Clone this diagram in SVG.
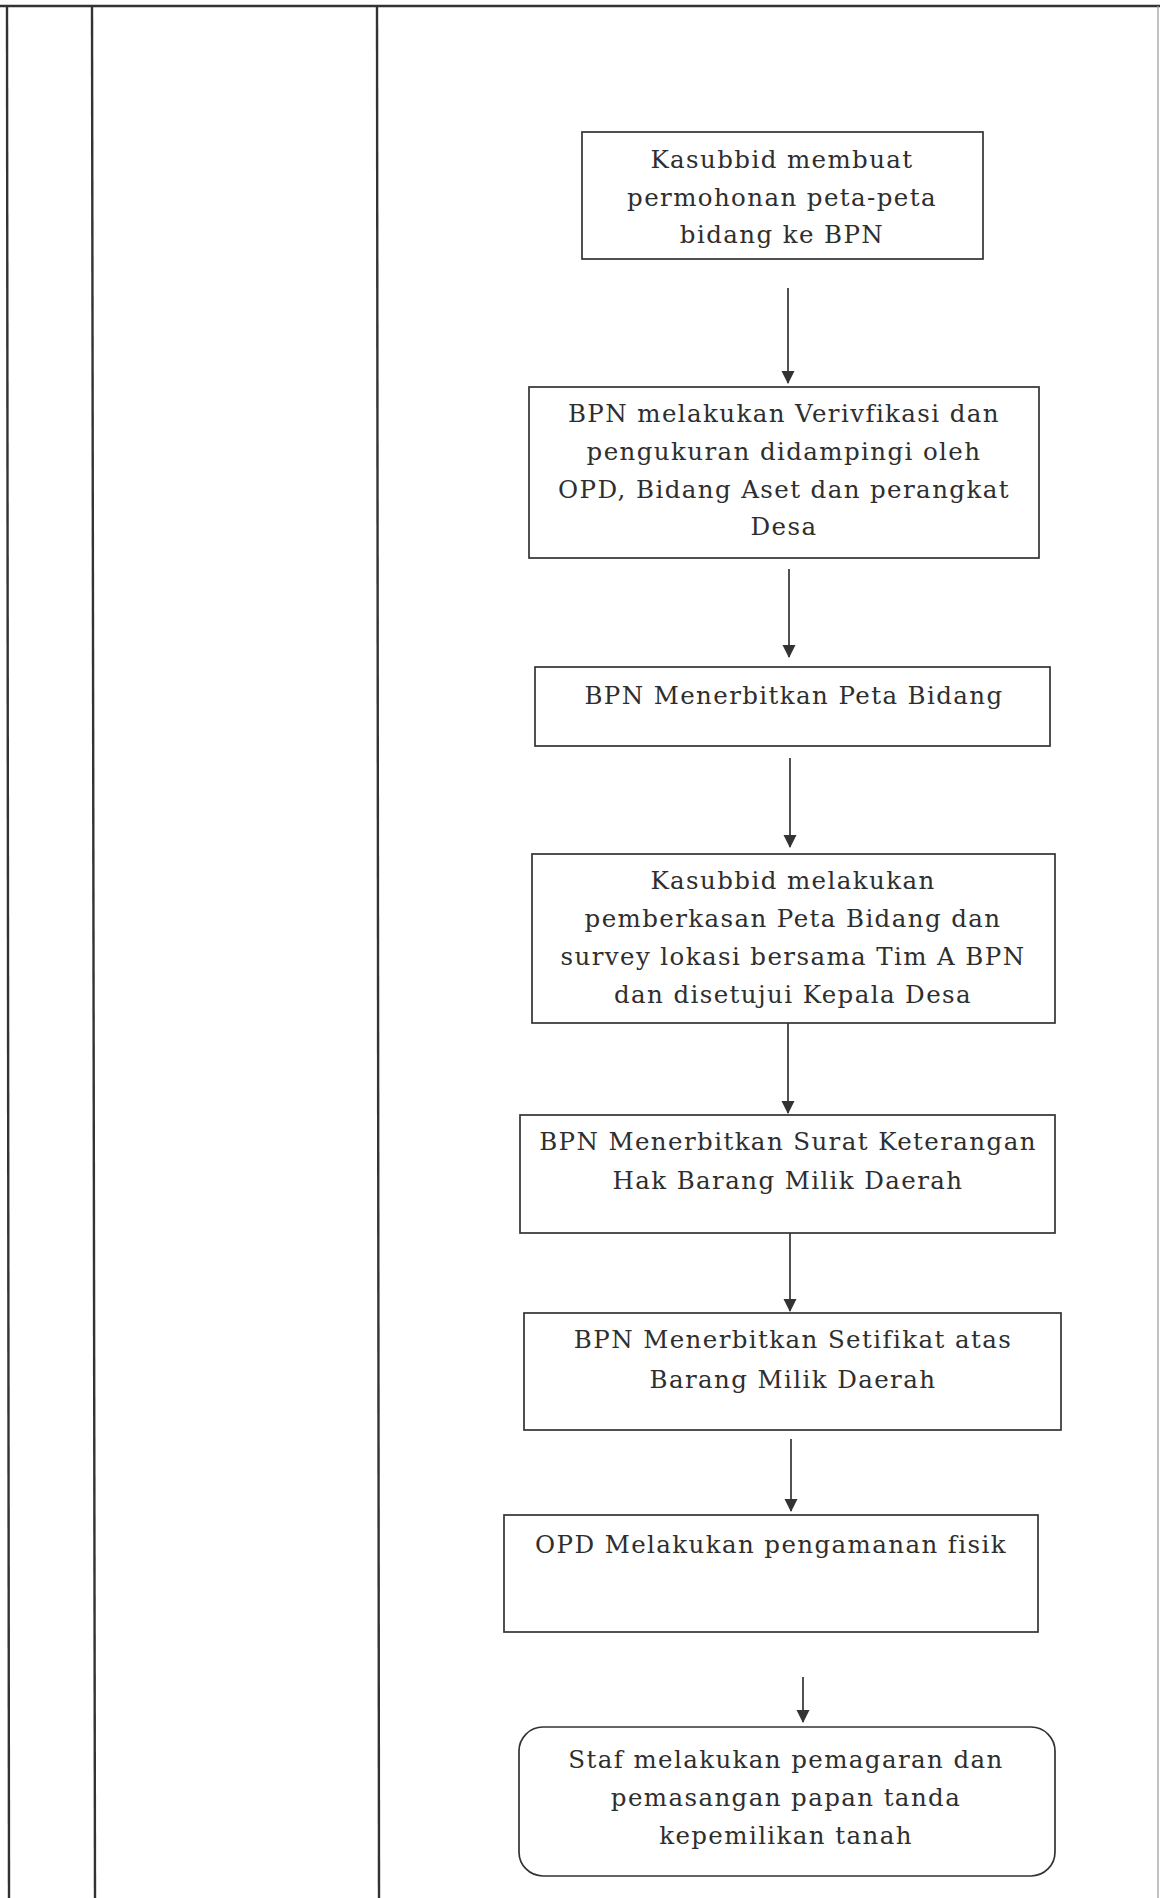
<svg xmlns="http://www.w3.org/2000/svg" width="1160" height="1898" viewBox="0 0 1160 1898">
<style>
.tbl{stroke:#333;stroke-width:2.4;fill:none}
.box{fill:#fff;stroke:#333;stroke-width:1.7}
.t{font-family:"DejaVu Serif","Liberation Serif",serif;font-size:24.5px;letter-spacing:1.4px;fill:#2e2e2e;text-anchor:middle}
.con{stroke:#333;stroke-width:1.7;fill:none}
</style>
<defs>
<marker id="ah" markerWidth="14" markerHeight="14" refX="12" refY="6.5" orient="auto" markerUnits="userSpaceOnUse">
<path d="M0,0 L13,6.5 L0,13 Z" fill="#333"/>
</marker>
</defs>
<rect width="1160" height="1898" fill="#fff"/>
<g id="table">
<line class="tbl" x1="0" y1="6" x2="1160" y2="6"/>
<line class="tbl" x1="7" y1="6" x2="9" y2="1898"/>
<line class="tbl" x1="92" y1="6" x2="95" y2="1898"/>
<line class="tbl" x1="377" y1="6" x2="379" y2="1898"/>
<line x1="1158" y1="6" x2="1158" y2="1898" stroke="#999" stroke-width="1.2"/>
</g>
<g id="connectors">
<line class="con" x1="788" y1="288" x2="788" y2="383" marker-end="url(#ah)"/>
<line class="con" x1="789" y1="569" x2="789" y2="657" marker-end="url(#ah)"/>
<line class="con" x1="790" y1="758" x2="790" y2="847" marker-end="url(#ah)"/>
<line class="con" x1="788" y1="1023" x2="788" y2="1113" marker-end="url(#ah)"/>
<line class="con" x1="790" y1="1233" x2="790" y2="1311" marker-end="url(#ah)"/>
<line class="con" x1="791" y1="1439" x2="791" y2="1511" marker-end="url(#ah)"/>
<line class="con" x1="803" y1="1677" x2="803" y2="1722" marker-end="url(#ah)"/>
</g>
<g id="n1">
<rect class="box" x="582" y="132" width="401" height="127"/>
<text class="t" x="782" y="168">Kasubbid membuat</text>
<text class="t" x="782" y="206">permohonan peta-peta</text>
<text class="t" x="782" y="243">bidang ke BPN</text>
</g>
<g id="n2">
<rect class="box" x="529" y="387" width="510" height="171"/>
<text class="t" x="784" y="422">BPN melakukan Verivfikasi dan</text>
<text class="t" x="784" y="460">pengukuran didampingi oleh</text>
<text class="t" x="784" y="498">OPD, Bidang Aset dan perangkat</text>
<text class="t" x="784" y="535">Desa</text>
</g>
<g id="n3">
<rect class="box" x="535" y="667" width="515" height="79"/>
<text class="t" x="794" y="704">BPN Menerbitkan Peta Bidang</text>
</g>
<g id="n4">
<rect class="box" x="532" y="854" width="523" height="169"/>
<text class="t" x="793" y="889">Kasubbid melakukan</text>
<text class="t" x="793" y="927">pemberkasan Peta Bidang dan</text>
<text class="t" x="793" y="965">survey lokasi bersama Tim A BPN</text>
<text class="t" x="793" y="1003">dan disetujui Kepala Desa</text>
</g>
<g id="n5">
<rect class="box" x="520" y="1115" width="535" height="118"/>
<text class="t" x="788" y="1150">BPN Menerbitkan Surat Keterangan</text>
<text class="t" x="788" y="1189">Hak Barang Milik Daerah</text>
</g>
<g id="n6">
<rect class="box" x="524" y="1313" width="537" height="117"/>
<text class="t" x="793" y="1348">BPN Menerbitkan Setifikat atas</text>
<text class="t" x="793" y="1388">Barang Milik Daerah</text>
</g>
<g id="n7">
<rect class="box" x="504" y="1515" width="534" height="117"/>
<text class="t" x="771" y="1553">OPD Melakukan pengamanan fisik</text>
</g>
<g id="n8">
<rect class="box" x="519" y="1727" width="536" height="149" rx="24" ry="24"/>
<text class="t" x="786" y="1768">Staf melakukan pemagaran dan</text>
<text class="t" x="786" y="1806">pemasangan papan tanda</text>
<text class="t" x="786" y="1844">kepemilikan tanah</text>
</g>
</svg>
